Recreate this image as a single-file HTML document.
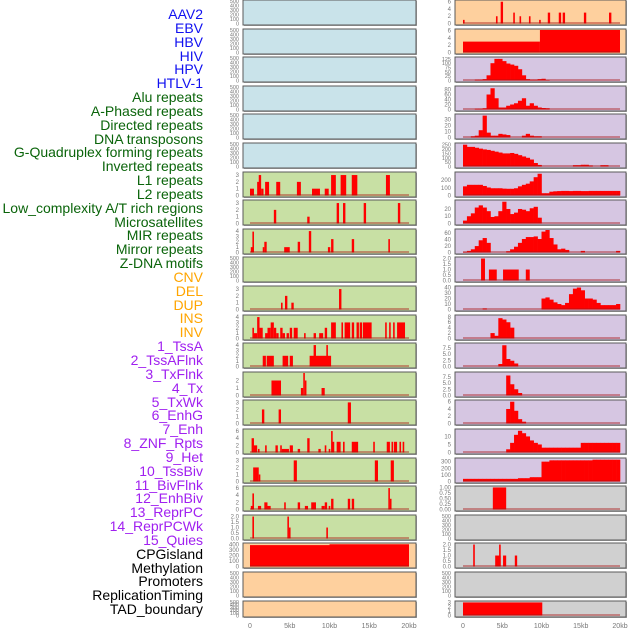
<!DOCTYPE html>
<html><head><meta charset="utf-8">
<style>
body{margin:0;background:#fff;}
#wrap{position:relative;width:630px;height:630px;overflow:hidden;font-family:"Liberation Sans",sans-serif;}
.lab{position:absolute;right:427px;font-size:14px;line-height:14px;white-space:nowrap;}
</style></head>
<body>
<div id="wrap">
<div id="labels"></div>
<svg id="svg" width="630" height="630"></svg>
</div>
<script>
// ---- labels ----
const labelNames = ["AAV2","EBV","HBV","HIV","HPV","HTLV-1","Alu repeats","A-Phased repeats","Directed repeats","DNA transposons","G-Quadruplex forming repeats","Inverted repeats","L1 repeats","L2 repeats","Low_complexity A/T rich regions","Microsatellites","MIR repeats","Mirror repeats","Z-DNA motifs","CNV","DEL","DUP","INS","INV","1_TssA","2_TssAFlnk","3_TxFlnk","4_Tx","5_TxWk","6_EnhG","7_Enh","8_ZNF_Rpts","9_Het","10_TssBiv","11_BivFlnk","12_EnhBiv","13_ReprPC","14_ReprPCWk","15_Quies","CPGisland","Methylation","Promoters","ReplicationTiming","TAD_boundary"];
const labelGroup = [0,0,0,0,0,0,1,1,1,1,1,1,1,1,1,1,1,1,1,2,2,2,2,2,3,3,3,3,3,3,3,3,3,3,3,3,3,3,3,4,4,4,4,4];
const groupColors = ["#1010f0","#0a640a","#ffa500","#a020f0","#000000"];

// ---- x axis ----
const xTickVals = [0,5,10,15,20];
const xTickLabels = ["0","5kb","10kb","15kb","20kb"];

// ---- series data (kb positions / values) ----
const L6_start=[0,0.9,1.1,1.4,1.9,3.3,5.9,7.8,9.4,10.2,11.4,12.8,17.1];
const L6_end  =[0.5,1.3,1.4,1.7,2.4,3.8,6.4,8.8,9.9,10.8,12.1,13.5,17.6];
const L6_val  =[1,2,3,1,2,2,2,1,1,3,3,3,3];
const L7_start=[3.0,7.2,10.9,11.7,14.3,18.6];
const L7_end  =[3.3,7.5,11.2,12.0,14.6,18.9];
const L7_val  =[2,1,3,3,3,3];
const L8_start=[0.1,0.3,1.6,1.8,4.3,6.0,7.4,9.8,10.2,12.8,17.4];
const L8_end  =[0.4,0.5,1.8,2.1,5.0,6.3,7.7,10.1,10.5,13.1,17.6];
const L8_val  =[1,3.9,1,2,1,2,4,1,2.5,2.5,2.5];
const L10_start=[3.9,4.4,5.2,11.2];
const L10_end  =[4.1,4.7,5.5,11.5];
const L10_val  =[1,2,1,3];
const L11_start=[0.3,0.5,0.9,1.2,1.9,2.2,2.6,3.0,3.3,3.8,4.1,4.6,5.0,5.5,6.8,8.0,8.7,9.4,10.2,11.5,11.9,12.8,13.4,13.8,14.2,17.0,17.5,18.0,18.5];
const L11_end  =[0.5,0.9,1.2,1.6,2.2,2.6,3.0,3.3,3.6,4.1,4.4,4.9,5.3,6.0,7.0,8.3,9.2,9.7,10.8,11.7,12.6,13.1,13.7,14.1,15.3,17.2,17.7,18.2,19.5];
const L11_val  =[2,1,4,2,1,2,3,2,1,2,1,1,2,2,1,1,1,2,3,3,3,3,3,3,3,3,3,3,3];
const L12_start=[1.6,2.1,4.1,5.0,7.5,8.0,9.6];
const L12_end  =[2.0,3.0,4.8,5.4,10.2,8.3,9.8];
const L12_val  =[2,2,2,2,2,4,4];
const L13_start=[2.7,6.4,6.7,6.9,9.0];
const L13_end  =[3.9,6.7,6.9,7.1,9.4];
const L13_val  =[2,1,3,2,1];
const L14_start=[1.5,3.6,12.3];
const L14_end  =[1.8,3.9,12.7];
const L14_val  =[2,2,3];
const L15_start=[0.2,0.5,1.0,1.9,3.2,3.8,4.0,5.0,6.0,7.2,8.6,9.4,9.9,10.2,10.3,10.9,11.7,12.8,15.5,17.2,17.8,18.1,18.8,19.2];
const L15_end  =[0.5,0.9,1.2,2.1,3.5,4.0,4.9,5.4,6.3,7.5,8.9,9.6,10.1,10.3,10.6,11.4,11.9,13.6,15.7,17.6,18.0,18.5,19.0,19.4];
const L15_val  =[4,2,1,2,2,2,1,2,1,4,1,2,1,6,3,3,3,3,3,3,3,3,3,3];
const L16_start=[0.4,1.1,5.5,15.7,17.7];
const L16_end  =[1.1,1.3,5.9,16.1,18.1];
const L16_val  =[2,1,3,3,3];
const L17_start=[0.1,0.3,1.0,1.8,2.2,4.3,6.0,6.9,7.7,9.0,9.4,9.9,10.2,12.3,12.8,17.4,17.6];
const L17_end  =[0.5,0.5,1.4,2.2,2.6,4.5,6.3,7.3,8.3,9.4,9.7,10.1,10.5,12.6,13.1,17.6,17.8];
const L17_val  =[1,4.5,1,2,1,2,2,1,2,1,2,1,3,3,3,6,3];
const L18_start=[0.3,4.7,4.9,9.6];
const L18_end  =[0.5,4.9,5.1,9.8];
const L18_val  =[2,2,1,1];
const L19_start=[0,10];
const L19_end  =[10,20];
const L19_val  =[385,400];

const R0_start=[0,4.2,4.8,6.4,7.2,8.4,9.7,10.8,12.2,12.7,15.4,18.6];
const R0_end  =[0.2,4.4,5.1,6.6,7.4,8.6,9.9,11.1,12.5,13.0,15.7,18.9];
const R0_val  =[1,2,6,3,2,2,1,3,3,3,3,3];
const R1_start=[0,9.8];
const R1_end  =[9.8,20];
const R1_val  =[3,6.2];
// 0.5kb bins (40 per track)
const R2_bins=[0,0,0,5,5,8,30,100,125,125,112,98,92,85,65,30,8,5,5,8,10,3,0,0,0,0,0,0,0,0,0,0,0,0,0,0,0,0,0,0];
const R3_bins=[0,0,0,3,3,5,60,85,45,8,8,15,20,25,35,45,15,25,15,8,6,5,0,0,0,0,0,0,0,0,0,0,0,0,0,0,0,0,0,0];
const R4_bins=[0,0,2,3,12,36,8,3,3,6,5,4,0,0,0,3,6,3,2,2,0,0,0,0,0,0,0,0,0,0,0,0,0,0,0,0,0,0,0,0];
const R5_bins=[250,225,225,215,205,196,190,180,170,160,150,150,155,145,130,115,100,80,40,18,0,0,0,0,0,0,0,0,15,15,20,20,12,0,0,15,15,0,0,0];
const R6_bins=[120,140,140,140,140,125,105,95,95,95,90,88,88,95,120,140,155,185,240,285,30,30,50,55,58,60,60,58,60,60,58,58,60,60,60,60,60,60,60,60];
const R7_bins=[4,10,14,22,25,22,17,9,10,17,30,20,13,15,20,19,17,21,23,8,0,0,0,0,0,0,0,0,0,0,0,0,0,0,0,0,0,0,0,0];
const R8_bins=[2,5,10,20,38,45,30,0,0,0,0,4,10,18,30,42,48,48,50,42,65,70,45,25,10,12,8,0,0,0,5,0,0,0,0,0,0,0,0,5];
const R9_start=[2.3,3.3,5.1,8.0];
const R9_end  =[2.8,4.3,7.1,8.5];
const R9_val  =[2,1,1,1];
const R10_bins=[0,0,0,0,0,2,0,0,0,0,0,0,0,0,0,0,0,0,0,0,20,22,18,13,10,8,12,28,38,40,35,20,20,18,12,8,8,8,8,10];
const R11_bins=[0,0,0,0,0,0,0,2,1,7.5,7,6,4,0,0,0,0,0,0,0,0,0,0,0,0,0,0,0,0,0,0,0,0,0,0,0,0,0,0,0];
const R12_bins=[0,0,0,0,0,0,0,0,0,1,8.5,3,2.3,1.2,0,0,0,0,0,0,0,0,0,0,0,0,0,0,0,0,0,0,0,0,0,0,0,0,0,0];
const R13_bins=[0,0,0,0,0,0,0,0,0,0,0,8,4.5,2.5,1,0,0,0,0,0,0,0,0,0,0,0,0,0,0,0,0,0,0,0,0,0,0,0,0,0];
const R14_bins=[0,0,0,0,0,0,0,0,0,0,0,4,6,3.5,1.2,0.5,0,0,0,0,0,0,0,0,0,0,0,0,0,0,0,0,0,0,0,0,0,0,0,0];
const R15_bins=[0,0,0,0,0,0,0,0,0,0,0,2,6,11,13.5,12,10,7.5,6,5,3,3,3,3,3,3,3,3,3,3,6,6,6,6,6,6,6,6,6,6];
const R16_bins=[40,40,40,40,40,40,40,40,40,40,40,40,40,40,50,50,50,65,65,65,300,300,320,320,320,320,320,320,320,320,320,320,320,330,330,330,330,330,330,330];
const R17_start=[3.8];
const R17_end  =[5.5];
const R17_val  =[1];
const R19_start=[1.3,4.1,4.6,5.1,6.6];
const R19_end  =[1.5,4.8,4.8,5.5,6.9];
const R19_val  =[2,1,2,1,1];
const R21_start=[0];
const R21_end  =[10.1];
const R21_val  =[3];

// ---- tick label sets ----
const T500=["0","100","200","300","400","500"];
const T3=["0","1","2","3"], T4=["0","1","2","3","4"], T6=["0","2","4","6"], T2=["0.0","0.5","1.0","1.5","2.0"];

const BG={blue:"#c9e3ea",green:"#c8e0a4",peach:"#fed09e",purple:"#d6c6e2",gray:"#d0d0d0"};
function seg(s,e,v){return {type:"seg",s:s,e:e,v:v};}
function bins(b){return {type:"bin",b:b};}
const leftTracks=[
 {bg:"blue",max:500,ticks:T500},{bg:"blue",max:500,ticks:T500},{bg:"blue",max:500,ticks:T500},
 {bg:"blue",max:500,ticks:T500},{bg:"blue",max:500,ticks:T500},{bg:"blue",max:500,ticks:T500},
 {bg:"green",max:3.3,ticks:T3,d:seg(L6_start,L6_end,L6_val)},
 {bg:"green",max:3.3,ticks:T3,d:seg(L7_start,L7_end,L7_val)},
 {bg:"green",max:4.2,ticks:T4,d:seg(L8_start,L8_end,L8_val)},
 {bg:"green",max:500,ticks:T500},
 {bg:"green",max:3.3,ticks:T3,d:seg(L10_start,L10_end,L10_val)},
 {bg:"green",max:4.2,ticks:T4,d:seg(L11_start,L11_end,L11_val)},
 {bg:"green",max:4.2,ticks:T4,d:seg(L12_start,L12_end,L12_val)},
 {bg:"green",max:3,ticks:["0","1","2"],d:seg(L13_start,L13_end,L13_val)},
 {bg:"green",max:3.2,ticks:T3,d:seg(L14_start,L14_end,L14_val)},
 {bg:"green",max:6.3,ticks:T6,d:seg(L15_start,L15_end,L15_val)},
 {bg:"green",max:3.2,ticks:T3,d:seg(L16_start,L16_end,L16_val)},
 {bg:"green",max:6.3,ticks:T6,d:seg(L17_start,L17_end,L17_val)},
 {bg:"green",max:2.05,ticks:T2,d:seg(L18_start,L18_end,L18_val)},
 {bg:"peach",max:405,ticks:["0","100","200","300","400"],d:seg(L19_start,L19_end,L19_val)},
 {bg:"peach",max:500,ticks:T500},
 {bg:"peach",max:500,ticks:T500}
];
const rightTracks=[
 {bg:"peach",max:6.2,ticks:T6,d:seg(R0_start,R0_end,R0_val)},
 {bg:"peach",max:6.2,ticks:T6,d:seg(R1_start,R1_end,R1_val)},
 {bg:"purple",max:130,ticks:["0","25","50","75","100","125"],d:bins(R2_bins)},
 {bg:"purple",max:90,ticks:["0","20","40","60","80"],d:bins(R3_bins)},
 {bg:"purple",max:37,ticks:["0","10","20","30"],d:bins(R4_bins)},
 {bg:"purple",max:258,ticks:["0","50","100","150","200","250"],d:bins(R5_bins)},
 {bg:"purple",max:295,ticks:["0","100","200"],d:bins(R6_bins)},
 {bg:"purple",max:31,ticks:["0","10","20"],d:bins(R7_bins)},
 {bg:"purple",max:70,ticks:["0","20","40","60"],d:bins(R8_bins)},
 {bg:"purple",max:2.05,ticks:T2,d:seg(R9_start,R9_end,R9_val)},
 {bg:"purple",max:41,ticks:["0","10","20","30","40"],d:bins(R10_bins)},
 {bg:"purple",max:8.3,ticks:["0","2","4","6","8"],d:bins(R11_bins)},
 {bg:"purple",max:9,ticks:["0.0","2.5","5.0","7.5"],d:bins(R12_bins)},
 {bg:"purple",max:9,ticks:["0.0","2.5","5.0","7.5"],d:bins(R13_bins)},
 {bg:"purple",max:6.2,ticks:T6,d:bins(R14_bins)},
 {bg:"purple",max:14,ticks:["0","5","10"],d:bins(R15_bins)},
 {bg:"purple",max:340,ticks:["0","100","200","300"],d:bins(R16_bins)},
 {bg:"gray",max:1.02,ticks:["0.00","0.25","0.50","0.75","1.00"],d:seg(R17_start,R17_end,R17_val)},
 {bg:"gray",max:500,ticks:T500},
 {bg:"gray",max:2.05,ticks:T2,d:seg(R19_start,R19_end,R19_val)},
 {bg:"gray",max:500,ticks:T500},
 {bg:"gray",max:3.1,ticks:T3,d:seg(R21_start,R21_end,R21_val)}
];

// ---- draw labels ----
const labDiv=document.getElementById('labels');
labelNames.forEach((n,i)=>{
  const d=document.createElement('div');
  d.className='lab';
  
  
  d.style.top=(15+i*13.84-8)+'px';
  d.style.color=groupColors[labelGroup[i]];
  d.textContent=n;
  labDiv.appendChild(d);
});

// ---- draw panels ----
const NS="http://www.w3.org/2000/svg";
const svg=document.getElementById('svg');
function mk(tag,attrs,parent){const e=document.createElementNS(NS,tag);for(const k in attrs)e.setAttribute(k,attrs[k]);(parent||svg).appendChild(e);return e;}
const cols=[{x0:243,x1:416,z:250,t:409,tracks:leftTracks},{x0:455,x1:626,z:463,t:620,tracks:rightTracks}];
cols.forEach((c,ci)=>{
  const xs=kb=>c.z+(c.t-c.z)*kb/20;
  c.tracks.forEach((tr,ri)=>{
    const top=Math.round(ri*28.6);
    const h=ri===21?16:25;
    const g=mk('g',{});
    
    
    mk('rect',{x:c.x0+1,y:top+1,width:c.x1-c.x0,height:h,fill:'#aaa'},g);
    mk('rect',{x:c.x0,y:top,width:c.x1-c.x0,height:h,fill:BG[tr.bg],stroke:'#5a5a5a','stroke-width':1},g);
    const y0=top+h-1.5, y1=top+1;
    const ys=v=>y0-(y0-y1)*v/tr.max;
    // y ticks
    const n=tr.ticks.length;
    tr.ticks.forEach(t=>{
      const v=parseFloat(t);
      const tx=mk('text',{x:c.x0-4,y:ys(v)+2,'font-size':(n>=6?5.5:6),fill:'#777','text-anchor':'end'},g);
      
      
      tx.textContent=t;
    });
    if(!tr.d) return;
    if(tr.d.type==='seg'){
      tr.d.s.forEach((s,k)=>{
        const x=xs(s), w=Math.max(1.6,xs(tr.d.e[k])-x);
        const r=mk('rect',{x:x,y:ys(tr.d.v[k]),width:w,height:y0-ys(tr.d.v[k]),fill:'#ff0000'},g);
        
        
      });
    } else {
      tr.d.b.forEach((v,k)=>{
        if(v<=0) return;
        const x=xs(k*0.5), w=xs((k+1)*0.5)-x+0.3;
        const r=mk('rect',{x:x,y:ys(v),width:w,height:y0-ys(v),fill:'#ff0000'},g);
        
        
      });
    }
    const bl=mk('line',{x1:xs(0),x2:xs(20),y1:y0-0.5,y2:y0-0.5,stroke:'rgba(170,20,20,0.55)','stroke-width':1.5},g);
    
    
  });
  xTickVals.forEach((v,k)=>{
    const t=mk('text',{x:xs(v),y:628,'font-size':7,fill:'#777','text-anchor':'middle'});
    
    
    t.textContent=xTickLabels[k];
  });
});
</script>
</body></html>
